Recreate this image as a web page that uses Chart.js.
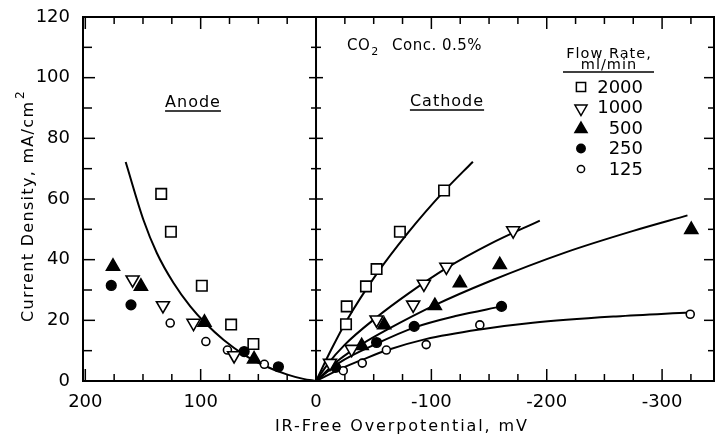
<!DOCTYPE html>
<html>
<head>
<meta charset="utf-8">
<script src="https://cdn.jsdelivr.net/npm/chart.js@4/dist/chart.umd.min.js"></script>
<style>
  html, body { margin: 0; padding: 0; background: #fff; }
  canvas { display: block; }
</style>
</head>
<body>
<canvas id="chart" width="715" height="435"></canvas>
<script>
// x = IR-free overpotential (mV), y = current density (mA/cm2)
const xTickLabels = [200, 100, 0, -100, -200, -300];
const yTickLabels = [0, 20, 40, 60, 80, 100, 120];
const flowRates = ['2000', '1000', '500', '250', '125'];

// measured points, anode side (positive) and cathode side (negative)
const pts2000 = [[134.2, 61.7], [125.8, 49.2], [99, 31.4], [73.6, 18.6], [54.3, 12.2],
                 [-26, 18.7], [-26.6, 24.6], [-43.3, 31.2], [-52.5, 36.9], [-72.7, 49.2], [-111, 62.8]];
const pts1000 = [[159, 33.4], [132.7, 24.9], [106.2, 19.1], [71, 8.4],
                 [-12.1, 5.9], [-30.9, 10.5], [-52.5, 20.2], [-84.2, 25.1], [-93.5, 32], [-113, 37.6], [-170.9, 49.6]];
const pts500 = [[176, 37.8], [151.8, 31.2], [96.7, 19.3], [53.7, 7.2],
                [-39.6, 11.6], [-59.1, 18.5], [-103, 24.8], [-124.7, 32.3], [-159.3, 38.3], [-325.3, 49.9]];
const pts250 = [[177.5, 31.5], [160.4, 25.1], [62.3, 9.7], [32.6, 4.7],
                [-17, 4.5], [-52.5, 12.7], [-85.1, 18], [-160.8, 24.6]];
const pts125 = [[126.4, 19.1], [95.5, 13], [76.8, 10.2], [44.8, 5.5],
                [-23.6, 3.4], [-40.1, 5.9], [-61, 10.2], [-95.5, 12], [-142, 18.5], [-324.4, 22]];

// drawn curves
const fitAnode = [[165, 72.2], [149.5, 53], [138, 42.2], [123.5, 32.3], [109, 24.6], [96, 19.1],
                  [80, 13.5], [63, 8.8], [45.6, 5.2], [25.4, 2.2], [11, 0.7], [0, 0]];
const fit2000 = [[0, 0], [-13, 10.2], [-27, 20.2], [-52, 35], [-80, 49], [-111, 62.6], [-136, 72.3]];
const fit1000 = [[0, 0], [-10, 5.5], [-25, 12], [-52.5, 21], [-80, 28.8], [-113, 37.2], [-151, 45.2], [-194, 52.9]];
const fit500 = [[0, 0], [-20, 7], [-40, 12.2], [-62, 17], [-103, 25], [-150, 32.8], [-217, 42.5], [-275, 49.5], [-322, 54.6]];
const fit250 = [[0, 0], [-20, 6], [-52.5, 12.3], [-85, 17.6], [-122, 21.5], [-160.8, 24.6]];
const fit125 = [[0, 0], [-24, 4.5], [-40, 7], [-62, 10.2], [-95, 13.8], [-142, 17], [-188, 19.2], [-260, 21.3], [-324, 22.6]];

const FONT = "'DejaVu Sans', sans-serif";
const toXY = arr => arr.map(p => ({x: p[0], y: p[1]}));

const markerStyles = [
    {pointStyle: 'rect', radius: 7.4, rotation: 0, fill: '#fff'},
    {pointStyle: 'triangle', radius: 7.5, rotation: 180, fill: '#fff'},
    {pointStyle: 'triangle', radius: 7.5, rotation: 0, fill: '#000'},
    {pointStyle: 'circle', radius: 4.8, rotation: 0, fill: '#000'},
    {pointStyle: 'circle', radius: 4, rotation: 0, fill: '#fff'}
];

function markerSet(label, data, st) {
    return {
        type: 'scatter',
        label: label,
        data: toXY(data),
        showLine: false,
        pointStyle: st.pointStyle,
        pointRadius: st.radius,
        pointRotation: st.rotation,
        pointBackgroundColor: st.fill,
        pointBorderColor: '#000',
        pointBorderWidth: 1.6,
        order: 1
    };
}

function curveSet(data) {
    return {
        type: 'line',
        data: toXY(data),
        borderColor: '#000',
        borderWidth: 2,
        pointRadius: 0,
        cubicInterpolationMode: 'monotone',
        fill: false,
        order: 2
    };
}

const datasets = [
    markerSet(flowRates[0], pts2000, markerStyles[0]),
    markerSet(flowRates[1], pts1000, markerStyles[1]),
    markerSet(flowRates[2], pts500, markerStyles[2]),
    markerSet(flowRates[3], pts250, markerStyles[3]),
    markerSet(flowRates[4], pts125, markerStyles[4]),
    curveSet(fitAnode), curveSet(fit2000), curveSet(fit1000),
    curveSet(fit500), curveSet(fit250), curveSet(fit125)
];

function line(ctx, x1, y1, x2, y2) {
    ctx.beginPath();
    ctx.moveTo(x1, y1);
    ctx.lineTo(x2, y2);
    ctx.stroke();
}

// draw text with letter spacing stretched to a given width
function spacedText(ctx, text, x, y, width) {
    ctx.letterSpacing = '0px';
    const w = ctx.measureText(text).width;
    const sp = (width - w) / (text.length - 1);
    ctx.letterSpacing = sp + 'px';
    ctx.fillText(text, x, y);
    ctx.letterSpacing = '0px';
}

const framePlugin = {
    id: 'frame',
    afterDatasetsDraw(chart) {
        const ctx = chart.ctx;
        const xs = chart.scales.x, ys = chart.scales.y;
        const {left, right, top, bottom} = chart.chartArea;
        ctx.save();
        ctx.strokeStyle = '#000';
        ctx.fillStyle = '#000';
        ctx.lineWidth = 2;
        ctx.strokeRect(left, top, right - left, bottom - top);
        line(ctx, left, bottom, right, bottom);

        // x ticks every 25 mV, inward on top and bottom
        for (let v = -325; v <= 200; v += 25) {
            const px = xs.getPixelForValue(v);
            const major = v % 100 === 0;
            ctx.lineWidth = 1.5;
            line(ctx, px, bottom, px, bottom - (major ? 12 : 7));
            line(ctx, px, top, px, top + (major ? 12 : 7));
        }
        // y ticks every 10 on left, right and the zero axis
        const x0 = xs.getPixelForValue(0);
        ctx.lineWidth = 2;
        line(ctx, x0, bottom, x0, top);
        for (let v = 10; v < 120; v += 10) {
            const py = ys.getPixelForValue(v);
            const major = v % 20 === 0;
            ctx.lineWidth = 1.5;
            line(ctx, left, py, left + (major ? 12 : 9), py);
            line(ctx, right, py, right - (major ? 10 : 6), py);
            line(ctx, x0 - (major ? 7 : 5), py, x0 + (major ? 7 : 5), py);
        }

        // Anode / Cathode labels with underline
        ctx.font = '16px ' + FONT;
        ctx.textBaseline = 'alphabetic';
        ctx.textAlign = 'center';
        [['Anode', 193, 107], ['Cathode', 447, 106]].forEach(([t, cx, by]) => {
            ctx.letterSpacing = '1px';
            const w = ctx.measureText(t).width;
            ctx.fillText(t, cx, by);
            ctx.lineWidth = 1.5;
            line(ctx, cx - w / 2, by + 4, cx + w / 2, by + 4);
        });
        ctx.letterSpacing = '0px';

        // CO2 Conc. 0.5%
        ctx.textAlign = 'left';
        ctx.font = '15px ' + FONT;
        ctx.letterSpacing = '0.5px';
        ctx.fillText('CO', 347, 50);
        const coW = ctx.measureText('CO').width;
        ctx.font = '11px ' + FONT;
        ctx.fillText('2', 347 + coW + 1, 55);
        ctx.font = '15px ' + FONT;
        ctx.fillText('Conc. 0.5%', 392, 50);
        ctx.letterSpacing = '0px';

        // legend block
        ctx.textAlign = 'center';
        ctx.font = '14.5px ' + FONT;
        ctx.letterSpacing = '1px';
        ctx.fillText('Flow Rate,', 609, 58);
        ctx.fillText('ml/min', 609, 68.5);
        ctx.letterSpacing = '0px';
        ctx.lineWidth = 1.5;
        line(ctx, 563, 72, 654, 72);
        ctx.font = '18px ' + FONT;
        ctx.textAlign = 'right';
        ctx.textBaseline = 'middle';
        const legendSizes = [6.5, 7, 7, 4.2, 3.6];
        flowRates.forEach((lab, i) => {
            const cy = 87 + i * 20.5;
            const st = markerStyles[i];
            ctx.fillStyle = st.fill;
            ctx.strokeStyle = '#000';
            ctx.lineWidth = 1.5;
            Chart.helpers.drawPoint(ctx, {pointStyle: st.pointStyle, radius: legendSizes[i],
                rotation: st.rotation, borderWidth: 1.5}, 581, cy + (st.pointStyle === 'triangle' ? 1 : 0));
            ctx.fillStyle = '#000';
            ctx.fillText(lab, 643, cy + 1);
        });

        // axis titles
        ctx.textBaseline = 'alphabetic';
        ctx.textAlign = 'left';
        ctx.font = '16px ' + FONT;
        spacedText(ctx, 'IR-Free Overpotential, mV', 275, 431, 252);

        ctx.save();
        ctx.translate(33, 322);
        ctx.rotate(-Math.PI / 2);
        ctx.font = '16px ' + FONT;
        const yt = 'Current Density, mA/cm';
        spacedText(ctx, yt, 0, 0, 220);
        ctx.font = '12px ' + FONT;
        ctx.fillText('2', 223, -9);
        ctx.restore();

        ctx.restore();
    }
};

new Chart(document.getElementById('chart'), {
    type: 'scatter',
    data: {datasets: datasets},
    options: {
        responsive: false,
        animation: false,
        events: [],
        layout: {padding: {top: 17, right: 1, left: 0, bottom: 0}, autoPadding: false},
        plugins: {
            legend: {display: false},
            tooltip: {enabled: false}
        },
        scales: {
            x: {
                type: 'linear',
                min: -345,
                max: 202,
                reverse: true,
                grid: {display: false},
                border: {display: false},
                afterBuildTicks: s => { s.ticks = xTickLabels.map(v => ({value: v})); },
                afterFit: s => { s.height = 54; },
                ticks: {
                    color: '#000',
                    font: {family: FONT, size: 18},
                    padding: 3,
                    maxRotation: 0,
                    autoSkip: false
                }
            },
            y: {
                min: 0,
                max: 120,
                grid: {display: false},
                border: {display: false},
                afterBuildTicks: s => { s.ticks = yTickLabels.map(v => ({value: v})); },
                afterFit: s => { s.width = 83; },
                ticks: {
                    color: '#000',
                    font: {family: FONT, size: 18},
                    padding: 5
                }
            }
        }
    },
    plugins: [framePlugin]
});
</script>
</body>
</html>
